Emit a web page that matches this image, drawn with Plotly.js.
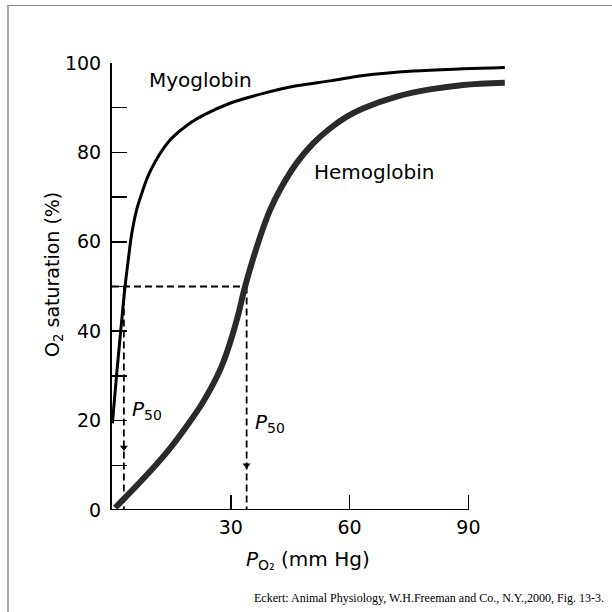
<!DOCTYPE html>
<html>
<head>
<meta charset="utf-8">
<script src="https://cdn.plot.ly/plotly-3.0.1.min.js"></script>
<style>
  html, body { margin: 0; padding: 0; background: #fff; }
  #wrap { position: relative; width: 612px; height: 612px; }
  #chart { position: absolute; left: 0; top: 0; width: 612px; height: 612px; }
  #frame { position: absolute; left: 7px; top: 5px; width: 605px; height: 607px;
           border-top: 1px solid #888; border-left: 2px solid #aaa; pointer-events: none; }
</style>
</head>
<body>
<div id="wrap">
  <div id="chart"></div>
  <div id="frame"></div>
</div>
<script>
// Myoglobin curve (PO2 mm Hg, % saturation)
const mbP = [0.1, 1.2, 2.3, 3.3, 4.1, 5.0, 6.2, 7.5, 9.2, 10.9, 13.0, 15.1, 19.3, 23.5, 29.8, 38.2, 46.6, 55.1, 63.5, 76.1, 88.7, 99.2];
const mbS = [19.4, 30.6, 41, 50, 55.9, 61.9, 67.1, 70.8, 74.9, 77.9, 80.9, 83.2, 86.3, 88.5, 91.0, 93.2, 94.9, 96.0, 97.2, 98.2, 98.7, 99.0];
// Hemoglobin curve
const hbP = [0.8, 6.6, 10.9, 15.1, 19.3, 22.6, 25.2, 27.7, 29.8, 31.9, 33.6, 37.4, 39.9, 42.4, 46.6, 50.8, 55.1, 59.3, 63.5, 71.9, 80.3, 88.7, 99.2];
const hbS = [0.5, 5.8, 9.9, 14.3, 19.3, 23.6, 27.6, 32.2, 37.4, 43.8, 50.0, 61.1, 67.1, 71.6, 77.6, 82.0, 85.4, 88.0, 89.9, 92.5, 94.1, 95.1, 95.6];
// P50 values
const mbP50 = 3.0;
const hbP50 = 34;
const halfSat = 50;
// arrow positions on the dashed P50 drop lines (% saturation)
const mbArrowS = 14;
const hbArrowS = 10;
// ticks
const xTicks = [30, 60, 90];
const xTickText = ['30', '60', '90'];
const yTicks = [0, 20, 40, 60, 80, 100];
const yTickText = ['0', '20', '40', '60', '80', '100'];

const dashStyle = '7px,4px';
const traces = [
  { x: [0, hbP50], y: [halfSat, halfSat], mode: 'lines',
    line: { color: '#000', width: 1.8, dash: dashStyle }, hoverinfo: 'skip' },
  { x: [hbP50, hbP50], y: [halfSat, 0], mode: 'lines',
    line: { color: '#000', width: 1.8, dash: dashStyle }, hoverinfo: 'skip' },
  { x: [mbP50, mbP50], y: [halfSat, 0], mode: 'lines',
    line: { color: '#000', width: 1.8, dash: dashStyle }, hoverinfo: 'skip' },
  { x: [mbP50, hbP50], y: [mbArrowS, hbArrowS], mode: 'markers',
    marker: { symbol: 'triangle-down', size: 7, color: '#000' }, hoverinfo: 'skip' },
  { x: hbP, y: hbS, mode: 'lines', name: 'Hemoglobin',
    line: { color: '#2a2a2a', width: 6, shape: 'spline', smoothing: 1 } },
  { x: mbP, y: mbS, mode: 'lines', name: 'Myoglobin',
    line: { color: '#000', width: 3, shape: 'spline', smoothing: 1 } }
];

const font = { family: 'DejaVu Sans, Liberation Sans, sans-serif', color: '#000' };

const layout = {
  width: 612, height: 612,
  margin: { l: 112, r: 104, t: 63, b: 102, pad: 0 },
  paper_bgcolor: '#fff', plot_bgcolor: 'rgba(0,0,0,0)',
  showlegend: false,
  xaxis: {
    range: [0, 100], showgrid: false, zeroline: false, showline: false,
    ticks: 'inside', ticklen: 15, tickwidth: 1.5, tickcolor: '#000',
    tickvals: xTicks, ticktext: xTickText, ticklabelstandoff: 4,
    tickfont: Object.assign({ size: 19 }, font)
  },
  yaxis: {
    range: [0, 100], showgrid: false, zeroline: false,
    showline: true, linewidth: 2, linecolor: '#000',
    ticks: 'inside', ticklen: 15, tickwidth: 1.5, tickcolor: '#000',
    tickvals: yTicks, ticktext: yTickText, ticklabelstandoff: 5,
    minor: { dtick: 10, ticks: 'inside', ticklen: 15, tickwidth: 1.5, tickcolor: '#000' },
    tickfont: Object.assign({ size: 19 }, font)
  },
  shapes: [
    { type: 'line', xref: 'x', yref: 'y', x0: 0, x1: 90, y0: 0, y1: 0,
      line: { color: '#000', width: 2 } }
  ],
  annotations: [
    { xref: 'x', yref: 'y', x: 8.8, y: 96.2, xanchor: 'left', yanchor: 'middle',
      text: 'Myoglobin', showarrow: false, font: Object.assign({ size: 20 }, font) },
    { xref: 'x', yref: 'y', x: 50.5, y: 75.6, xanchor: 'left', yanchor: 'middle',
      text: 'Hemoglobin', showarrow: false, font: Object.assign({ size: 20 }, font) },
    { xref: 'x', yref: 'y', x: 4.5, y: 22.4, xanchor: 'left', yanchor: 'middle',
      text: '<i>P</i><sub>50</sub>', showarrow: false, font: Object.assign({ size: 20 }, font) },
    { xref: 'x', yref: 'y', x: 35.6, y: 19.5, xanchor: 'left', yanchor: 'middle',
      text: '<i>P</i><sub>50</sub>', showarrow: false, font: Object.assign({ size: 20 }, font) },
    { xref: 'paper', yref: 'paper', x: (308 - 112) / 396, y: (510 - 560) / 447,
      xanchor: 'center', yanchor: 'middle',
      text: '<i>P</i><sub>O₂</sub> (mm Hg)', showarrow: false, font: Object.assign({ size: 20 }, font) },
    { xref: 'paper', yref: 'paper', x: (53 - 112) / 396, y: (510 - 275) / 447,
      xanchor: 'center', yanchor: 'middle', textangle: -90,
      text: 'O<sub>2</sub> saturation (%)', showarrow: false, font: Object.assign({ size: 19 }, font) },
    { xref: 'paper', yref: 'paper', x: (606 - 112) / 396, y: (510 - 598) / 447,
      xanchor: 'right', yanchor: 'middle',
      text: 'Eckert: Animal Physiology, W.H.Freeman and Co., N.Y.,2000, Fig. 13-3.',
      showarrow: false, font: { family: 'Liberation Serif, Times New Roman, serif', size: 12, color: '#000' } }
  ]
};

Plotly.newPlot('chart', traces, layout, { staticPlot: true, displayModeBar: false });
</script>
</body>
</html>
